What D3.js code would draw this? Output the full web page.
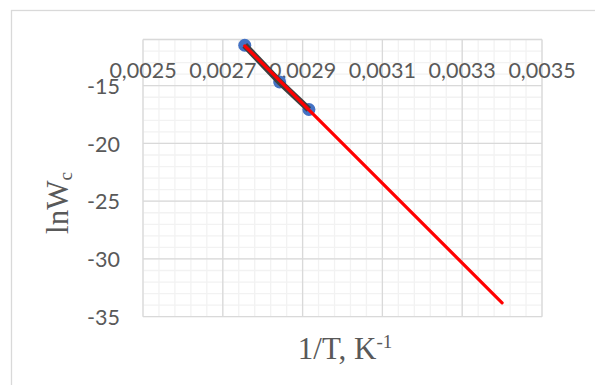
<!DOCTYPE html>
<html>
<head>
<meta charset="utf-8">
<script src="https://cdn.jsdelivr.net/npm/d3@7"></script>
<style>
  body { margin: 0; background: #fff; }
  svg { display: block; }
</style>
</head>
<body>
<svg id="chart" width="595" height="385"></svg>
<script>
// measured points
var invT = [0.002755, 0.0028425, 0.0029158];
var lnW = [-11.5, -14.67, -17.06];

// extrapolated fit line (red)
var fitX = [0.002755, 0.0034];
var fitY = [-11.55, -33.8];

var xTicks = [0.0025, 0.0027, 0.0029, 0.0031, 0.0033, 0.0035];
var yTicks = [-15, -20, -25, -30, -35];

var svg = d3.select("#chart"),
    margin = {top: 39.5, right: 53, bottom: 68.3, left: 143},
    width = 595 - margin.left - margin.right,
    height = 385 - margin.top - margin.bottom;

// chart frame (runs off the right and bottom edge)
svg.append("rect")
    .attr("x", 11.5).attr("y", 10.5)
    .attr("width", 700).attr("height", 500)
    .attr("fill", "#fff")
    .attr("stroke", "#d9d9d9")
    .attr("stroke-width", 1.3);

// title, cut off at top
svg.append("text")
    .attr("x", 210).attr("y", -8)
    .attr("text-anchor", "middle")
    .attr("font-family", "Liberation Serif")
    .attr("font-size", 31)
    .attr("fill", "#000")
    .text("p");

var x = d3.scaleLinear().domain([0.0025, 0.0035]).range([0, width]);
var y = d3.scaleLinear().domain([-35, -11]).range([height, 0]);

var g = svg.append("g")
    .attr("transform", "translate(" + margin.left + "," + margin.top + ")");

// minor grid
var xMinor = d3.range(0, 26).map(function(i) { return 0.0025 + i * 0.00004; });
var yMinor = d3.range(-35, -10);

g.selectAll(".vminor").data(xMinor).enter().append("line")
    .attr("x1", function(d) { return x(d); }).attr("x2", function(d) { return x(d); })
    .attr("y1", 0).attr("y2", height)
    .attr("stroke", "#f2f2f2").attr("stroke-width", 1.3);
g.selectAll(".hminor").data(yMinor).enter().append("line")
    .attr("y1", function(d) { return y(d); }).attr("y2", function(d) { return y(d); })
    .attr("x1", 0).attr("x2", width)
    .attr("stroke", "#f2f2f2").attr("stroke-width", 1.3);

// major grid
g.selectAll(".vmajor").data(xTicks).enter().append("line")
    .attr("x1", function(d) { return x(d); }).attr("x2", function(d) { return x(d); })
    .attr("y1", 0).attr("y2", height)
    .attr("stroke", "#d9d9d9").attr("stroke-width", 1.3);
g.selectAll(".hmajor").data(yTicks.concat([-11])).enter().append("line")
    .attr("y1", function(d) { return y(d); }).attr("y2", function(d) { return y(d); })
    .attr("x1", 0).attr("x2", width)
    .attr("stroke", "#d9d9d9").attr("stroke-width", 1.3);

// tick labels
var fmt = function(d) { return d.toFixed(4).replace(".", ","); };
g.selectAll(".xlab").data(xTicks).enter().append("text")
    .attr("x", function(d) { return x(d); })
    .attr("y", 38.5)
    .attr("text-anchor", "middle")
    .attr("font-family", "Lato")
    .attr("font-size", 21.5)
    .attr("fill", "#595959")
    .text(fmt);

g.selectAll(".ylab").data(yTicks).enter().append("text")
    .attr("x", -23)
    .attr("y", function(d) { return y(d); })
    .attr("dy", "0.38em")
    .attr("text-anchor", "end")
    .attr("font-family", "Lato")
    .attr("font-size", 21.5)
    .attr("fill", "#595959")
    .text(function(d) { return d; });

// data
var pts = invT.map(function(d, i) { return [d, lnW[i]]; });
var fit = fitX.map(function(d, i) { return [d, fitY[i]]; });
var line = d3.line().x(function(d) { return x(d[0]); }).y(function(d) { return y(d[1]); });

g.selectAll(".dot").data(pts).enter().append("circle")
    .attr("cx", function(d) { return x(d[0]); })
    .attr("cy", function(d) { return y(d[1]); })
    .attr("r", 6.5)
    .attr("fill", "#4472c4");

g.append("path").datum(pts)
    .attr("d", line)
    .attr("fill", "none")
    .attr("stroke", "#404040")
    .attr("stroke-width", 6.5);

g.append("path").datum(fit)
    .attr("d", line)
    .attr("fill", "none")
    .attr("stroke", "#ff0000")
    .attr("stroke-width", 3.2)
    .attr("stroke-linecap", "round");

// axis titles
var xt = svg.append("text")
    .attr("x", 345).attr("y", 359)
    .attr("text-anchor", "middle")
    .attr("font-family", "Liberation Serif")
    .attr("font-size", 31)
    .attr("fill", "#595959");
xt.append("tspan").text("1/T, K");
xt.append("tspan").attr("font-size", 19).attr("dy", -11).text("-1");

var yt = svg.append("text")
    .attr("transform", "translate(68,203) rotate(-90)")
    .attr("text-anchor", "middle")
    .attr("font-family", "Liberation Serif")
    .attr("font-size", 31)
    .attr("fill", "#595959");
yt.append("tspan").text("lnW");
yt.append("tspan").attr("font-size", 19).attr("dy", 4).text("c");
</script>
</body>
</html>
